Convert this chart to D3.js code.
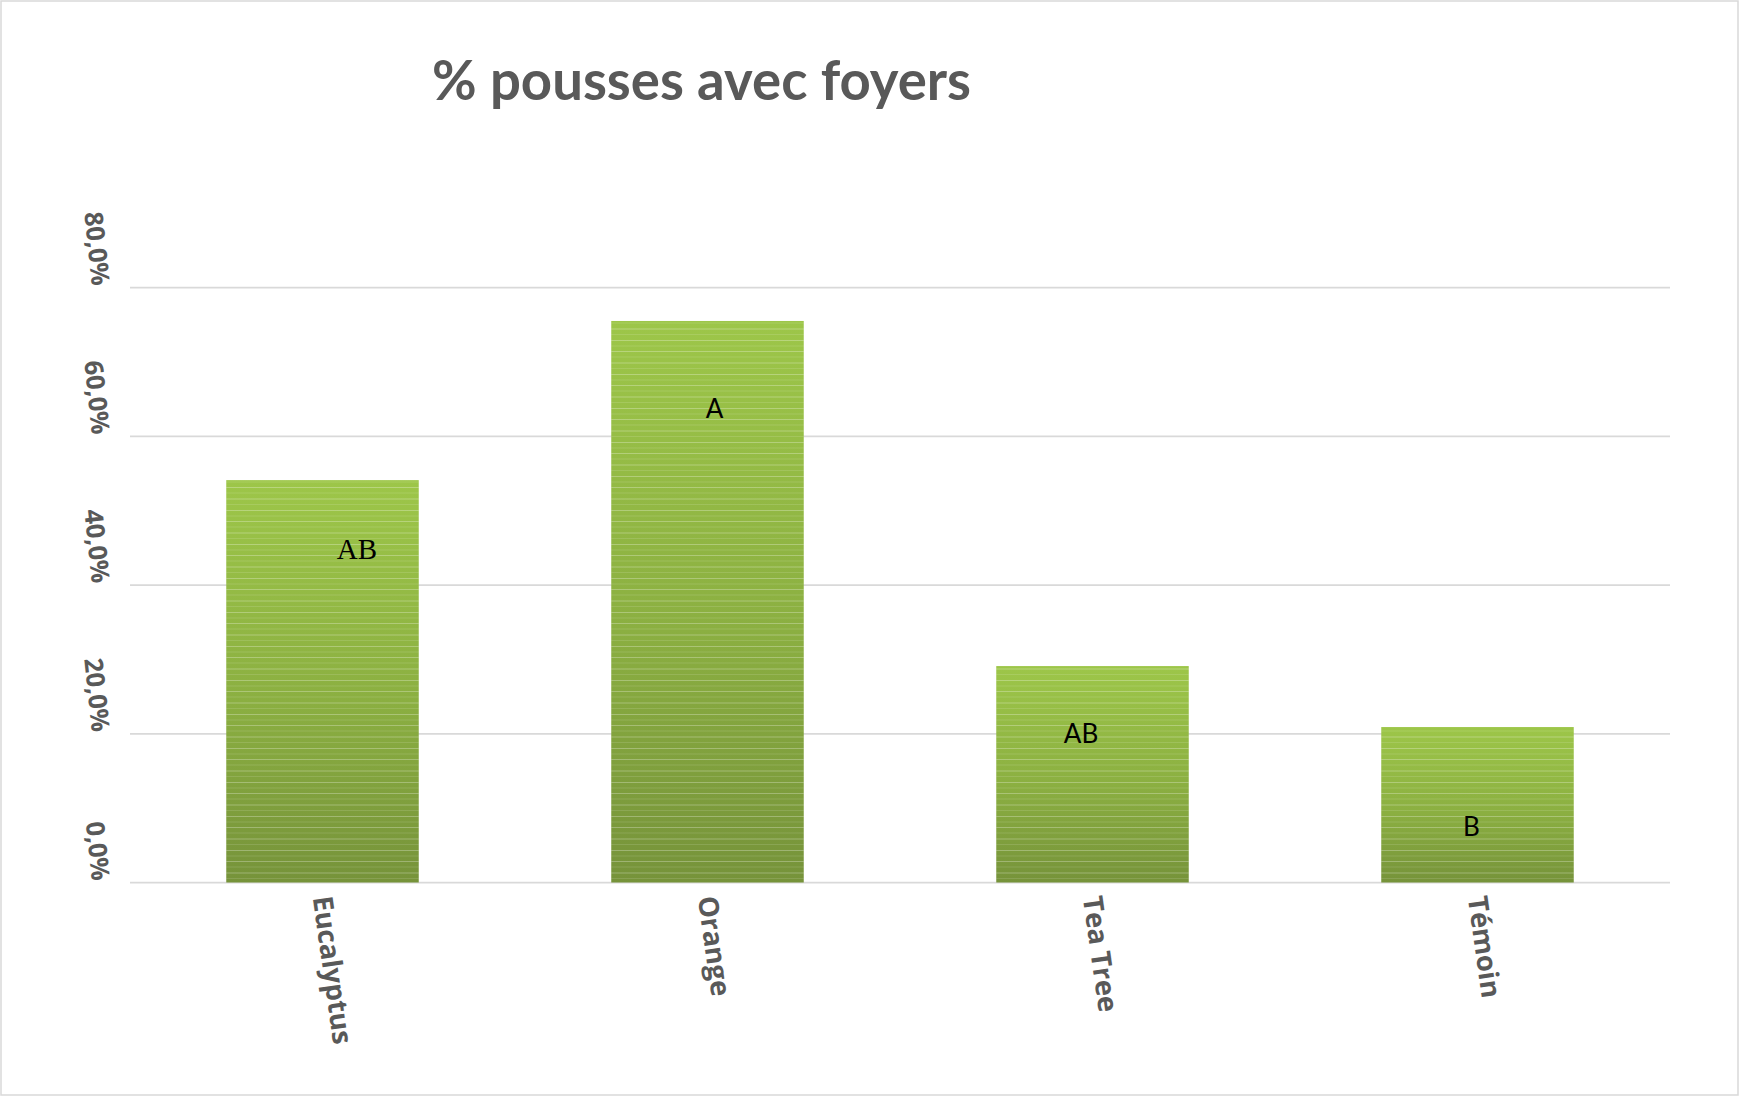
<!DOCTYPE html>
<html>
<head>
<meta charset="utf-8">
<script src="https://cdn.jsdelivr.net/npm/d3@7"></script>
<style>
  html, body { margin: 0; padding: 0; background: #fff; }
  svg { display: block; }
</style>
</head>
<body>
<svg id="chart" width="1740" height="1097"></svg>
<script>
// ---- data ----
const categories = ["Eucalyptus", "Orange", "Tea Tree", "Témoin"];
const values = [54.1, 75.5, 29.1, 20.9];          // % pousses avec foyers
const letters = ["AB", "A", "AB", "B"];           // significance groups
const letterLevels = [43.5, 62.4, 18.7, 6.2];     // baseline level (in % units)
const yTicks = [0, 20, 40, 60, 80];
const yTickLabels = ["0,0%", "20,0%", "40,0%", "60,0%", "80,0%"];
const title = "% pousses avec foyers";

// ---- style / layout ----
const W = 1740, H = 1097;
const plot = { left: 130, right: 1670, top: 287.5, bottom: 882.5 };
const grey = "#595959";
const gridColor = "#D9D9D9";
const letterStyle = [
  { font: "'Liberation Serif', 'Times New Roman', serif", size: 29, dx: 34.5 },
  { font: "Lato, 'Open Sans', sans-serif", size: 26, dx: 7 },
  { font: "Lato, 'Open Sans', sans-serif", size: 26, dx: -11.5 },
  { font: "Lato, 'Open Sans', sans-serif", size: 26, dx: -6 }
];

const svg = d3.select("#chart");

// outer border
svg.append("rect")
  .attr("x", 1).attr("y", 1).attr("width", W - 3).attr("height", H - 3)
  .attr("fill", "#fff").attr("stroke", gridColor).attr("stroke-width", 1.5);

const x = d3.scaleBand().domain(categories)
  .range([plot.left, plot.right]).paddingInner(0.5).paddingOuter(0.25);
const y = d3.scaleLinear().domain([0, 80]).range([plot.bottom, plot.top]);

// defs: gradient + stripes
const defs = svg.append("defs");
const grad = defs.append("linearGradient").attr("id", "barGrad")
  .attr("x1", 0).attr("y1", 0).attr("x2", 0).attr("y2", 1);
grad.append("stop").attr("offset", "0%").attr("stop-color", "#9DC649");
grad.append("stop").attr("offset", "55%").attr("stop-color", "#8BAF41");
grad.append("stop").attr("offset", "100%").attr("stop-color", "#76933A");

const pat = defs.append("pattern").attr("id", "stripes")
  .attr("patternUnits", "userSpaceOnUse").attr("width", 400).attr("height", 34);
[0, 11, 22.5].forEach(o => {
  pat.append("rect").attr("x", 0).attr("y", o).attr("width", 400).attr("height", 1)
    .attr("fill", "#ffffff").attr("fill-opacity", 0.28);
});
[5.5, 16.5, 28].forEach(o => {
  pat.append("rect").attr("x", 0).attr("y", o).attr("width", 400).attr("height", 1)
    .attr("fill", "#ffffff").attr("fill-opacity", 0.12);
});

// gridlines
svg.append("g").selectAll("line").data(yTicks).join("line")
  .attr("x1", plot.left).attr("x2", plot.right)
  .attr("y1", d => y(d)).attr("y2", d => y(d))
  .attr("stroke", gridColor).attr("stroke-width", 1.75);

// bars
const bars = svg.append("g");
bars.selectAll("rect.bar").data(values).join("rect").attr("class", "bar")
  .attr("x", (d, i) => x(categories[i])).attr("width", x.bandwidth())
  .attr("y", d => y(d)).attr("height", d => y(0) - y(d))
  .attr("fill", "url(#barGrad)");
bars.selectAll("rect.stripe").data(values).join("rect").attr("class", "stripe")
  .attr("x", (d, i) => x(categories[i])).attr("width", x.bandwidth())
  .attr("y", d => y(d)).attr("height", d => y(0) - y(d))
  .attr("fill", "url(#stripes)");

// significance letters
svg.append("g").selectAll("text").data(letters).join("text")
  .attr("x", (d, i) => x(categories[i]) + x.bandwidth() / 2 + letterStyle[i].dx)
  .attr("y", (d, i) => y(letterLevels[i]))
  .attr("text-anchor", "middle")
  .attr("font-family", (d, i) => letterStyle[i].font)
  .attr("font-size", (d, i) => letterStyle[i].size)
  .attr("fill", "#000")
  .text(d => d);

// y tick labels (rotated)
svg.append("g").selectAll("text").data(yTicks).join("text")
  .attr("transform", d => `translate(101,${y(d) - 2}) rotate(84)`)
  .attr("text-anchor", "end")
  .attr("dy", "0.36em")
  .attr("font-family", "'Open Sans', Lato, sans-serif")
  .attr("font-weight", "bold")
  .attr("font-size", 25.5)
  .attr("fill", grey)
  .text((d, i) => yTickLabels[i]);

// x category labels (rotated)
svg.append("g").selectAll("text").data(categories).join("text")
  .attr("transform", d => `translate(${x(d) + x.bandwidth() / 2},896) rotate(82)`)
  .attr("text-anchor", "start")
  .attr("dy", "0.36em")
  .attr("font-family", "'Open Sans', Lato, sans-serif")
  .attr("font-weight", "bold")
  .attr("font-size", 27.5)
  .attr("fill", grey)
  .text(d => d);

// title
svg.append("text")
  .attr("x", 432).attr("y", 100)
  .attr("font-family", "Lato, 'Open Sans', sans-serif")
  .attr("font-weight", "bold")
  .attr("font-size", 54.5)
  .attr("fill", grey)
  .text(title);
</script>
</body>
</html>
